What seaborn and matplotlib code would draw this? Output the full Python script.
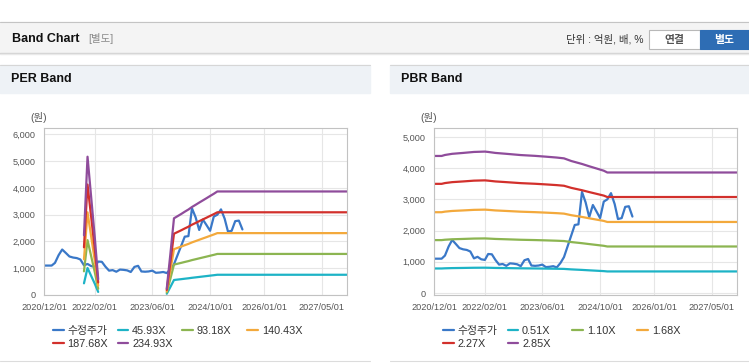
import numpy as np
import pandas as pd
import matplotlib
matplotlib.use("Agg")
import matplotlib.pyplot as plt
import matplotlib.dates as mdates
from matplotlib.ticker import FuncFormatter
from matplotlib.patches import Rectangle
from matplotlib.lines import Line2D
from matplotlib.legend import Legend
import seaborn as sns

# ---- data ----
# adjusted close price, monthly from 2020/12
price = [1100, 1100, 1100, 1200, 1490, 1700, 1570, 1440, 1400, 1380,
         1330, 1110, 1160, 1080, 1060, 1250, 1240, 1060, 910, 930,
         870, 950, 940, 920, 860, 1050, 1090, 880, 870, 880,
         910, 830, 840, 860, 820, 960, 1150, 1500, 1850, 2180,
         2200, 3240, 2900, 2430, 2820, 2610, 2400, 2930, 3000, 3200,
         2850, 2370, 2400, 2760, 2780, 2450]

# PER band: EPS base (two separate stretches)
eps1_dates = ["2021-11-01", "2021-12-01", "2022-01-01", "2022-02-01", "2022-03-01"]
eps1 = [9.5, 22.0, 15.5, 9.0, 2.5]
eps2_dates = ["2023-10-01", "2023-11-01", "2023-12-01", "2024-01-01", "2024-02-01",
              "2024-03-01", "2024-04-01", "2024-05-01", "2024-06-01", "2024-07-01",
              "2024-08-01", "2024-09-01", "2024-10-01", "2024-11-01", "2024-12-01",
              "2027-12-01"]
eps2 = [1.0, 6.6, 12.2, 12.55, 12.9, 13.25, 13.6, 14.0, 14.35, 14.7,
        15.05, 15.4, 15.75, 16.1, 16.47, 16.47]
per_mult = [45.93, 93.18, 140.43, 187.68, 234.93]

# PBR band: BPS base
bps_dates = ["2020-12-01", "2021-02-01", "2021-03-01", "2021-05-01", "2021-08-01",
             "2021-11-01", "2022-02-01", "2022-03-01", "2022-05-01", "2022-08-01",
             "2022-12-01", "2023-04-01", "2023-07-01", "2023-10-01", "2023-12-01",
             "2024-02-01", "2024-05-01", "2024-07-01", "2024-09-01", "2024-11-01",
             "2024-12-01", "2027-12-01"]
bps = [1541, 1541, 1552, 1565, 1575, 1586, 1590, 1586, 1575, 1565,
       1551, 1542, 1533, 1523, 1514, 1484, 1451, 1425, 1400, 1375,
       1355, 1355]
pbr_mult = [0.51, 1.10, 1.68, 2.27, 2.85]

tick_dates = ["2020-12-01", "2022-02-01", "2023-06-01", "2024-10-01", "2026-01-01", "2027-05-01"]
colors = ["#3a78c8", "#1db3c6", "#8cb551", "#f3a93c", "#d2302c", "#8f4c9b"]

price_dates = pd.date_range("2020-12-01", periods=len(price), freq="MS")


def build(segs, mults):
    frames = [pd.DataFrame({"date": price_dates, "value": price,
                            "series": "수정주가", "seg": 0})]
    for k, (d, base) in enumerate(segs, 1):
        for m in mults:
            frames.append(pd.DataFrame({"date": pd.to_datetime(d),
                                        "value": np.array(base) * m,
                                        "series": f"{m:.2f}X", "seg": k}))
    return pd.concat(frames, ignore_index=True)


sns.set_style("white")
plt.rcParams["font.family"] = ["Liberation Sans", "Noto Sans CJK KR"]

W, H = 749, 364
fig = plt.figure(figsize=(W / 100, H / 100), dpi=100)


def fx(x):
    return x / W


def fy(y):
    return 1 - y / H


def rect(x0, y0, x1, y1, **kw):
    fig.patches.append(Rectangle((fx(x0), fy(y1)), (x1 - x0) / W, (y1 - y0) / H,
                                 transform=fig.transFigure, **kw))


def hline(x0, x1, y, **kw):
    fig.add_artist(Line2D([fx(x0), fx(x1)], [fy(y), fy(y)], transform=fig.transFigure, **kw))


# page header
rect(0, 22, W, 52, color="#f4f4f4", zorder=0)
hline(0, W, 21.5, color="#c4c4c4", lw=0.8)
hline(0, W, 52.5, color="#d2d2d2", lw=1.0)
hline(0, W, 53.8, color="#e9e9e9", lw=1.0)
fig.text(fx(12), fy(38.5), "Band Chart", fontsize=9, fontweight="bold", va="center", color="#111")
fig.text(fx(88), fy(38.5), "[별도]", fontsize=7.5, va="center", color="#8a8a8a")
fig.text(fx(643), fy(39), "단위 : 억원, 배, %", fontsize=7.5, ha="right", va="center", color="#333")
rect(649, 30, 700, 48.5, fc="white", ec="#b8b8b8", lw=0.8, zorder=1)
fig.text(fx(674.5), fy(39.5), "연결", fontsize=7.8, fontweight="bold", ha="center", va="center", color="#555")
rect(700, 30, W, 48.5, fc="#2e6db4", ec="#2e6db4", lw=0.8, zorder=1)
fig.text(fx(724.5), fy(39.5), "별도", fontsize=7.8, fontweight="bold", ha="center", va="center", color="white")

panels = [
    (0, 370, "PER Band", build([(eps1_dates, eps1), (eps2_dates, eps2)], per_mult),
     [f"{m:.2f}X" for m in per_mult], (0, 6230), range(0, 6001, 1000)),
    (390, 749, "PBR Band", build([(bps_dates, bps)], pbr_mult),
     [f"{m:.2f}X" for m in pbr_mult], (-64, 5278), range(0, 5001, 1000)),
]

for px0, px1, title, df, band_labels, ylim, yticks in panels:
    rect(px0, 64.5, px1, 92.5, color="#eef2f6", zorder=0)
    hline(px0, px1, 64.5, color="#d6d6d6", lw=0.8)
    hline(px0, px1, 361, color="#dcdcdc", lw=0.8)
    fig.text(fx(px0 + 11), fy(79.5), title, fontsize=9, fontweight="bold", va="center", color="#111")
    fig.text(fx(px0 + 30.5), fy(118), "(원)", fontsize=7.5, va="center", color="#555")

    ax = fig.add_axes([fx(px0 + 44.3), fy(295), 302.7 / W, 166.7 / H])
    order = ["수정주가"] + band_labels
    sns.lineplot(data=df, x="date", y="value", hue="series", units="seg",
                 estimator=None, hue_order=order, palette=colors,
                 linewidth=1.6, ax=ax, legend=True)
    leg = ax.get_legend()
    handles = leg.legend_handles
    labels = [t.get_text() for t in leg.get_texts()]
    leg.remove()

    ax.set_xlim(pd.Timestamp("2020-12-01"), pd.Timestamp("2027-12-01"))
    ax.set_ylim(*ylim)
    ax.set_xticks(pd.to_datetime(tick_dates))
    ax.xaxis.set_major_formatter(mdates.DateFormatter("%Y/%m/%d"))
    ax.set_yticks(list(yticks))
    ax.yaxis.set_major_formatter(FuncFormatter(lambda v, p: f"{v:,.0f}"))
    ax.set_xlabel("")
    ax.set_ylabel("")
    ax.grid(True, color="#e6e6e6", lw=0.8)
    ax.set_axisbelow(True)
    for s in ax.spines.values():
        s.set_visible(True)
        s.set_color("#c2c2c2")
        s.set_linewidth(0.8)
    ax.tick_params(axis="both", length=3, width=0.8, color="#b0b0b0",
                   labelsize=6.6, labelcolor="#555")
    ax.tick_params(axis="x", pad=3)
    ax.tick_params(axis="y", pad=3.5)

    # legend laid out on a fixed grid like the original
    for i, (h, lab) in enumerate(zip(handles, labels)):
        r, c = divmod(i, 4)
        lg = Legend(ax, [h], [lab], loc="center left",
                    bbox_to_anchor=(fx(px0 + 52.7 + c * 64.8), fy(330.7 + r * 13.3)),
                    bbox_transform=fig.transFigure, frameon=False,
                    handlelength=1.0, handletextpad=0.35, borderpad=0,
                    borderaxespad=0, fontsize=7.8, labelcolor="#333")
        ax.add_artist(lg)

fig.savefig("out.png", dpi=100, facecolor="white")
